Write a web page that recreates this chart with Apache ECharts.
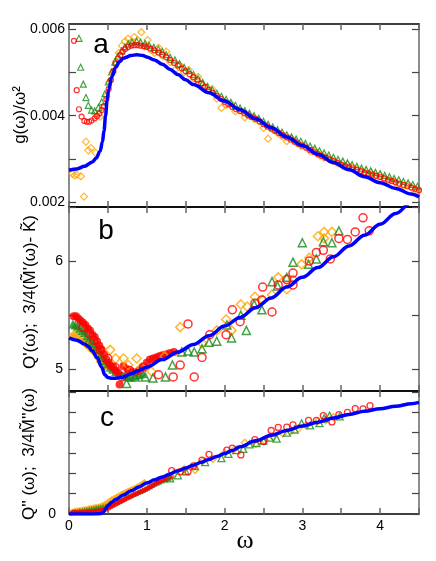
<!DOCTYPE html>
<html><head><meta charset="utf-8">
<script src="https://cdn.jsdelivr.net/npm/echarts@6/dist/echarts.min.js"></script>
<style>html,body{margin:0;padding:0;background:#fff}#c{width:436px;height:561px}</style>
</head><body><div id="c"></div>
<script>
// ---------- tick values / labels ----------
const xTicks = [0,0.5,1,1.5,2,2.5,3,3.5,4,4.5];
const xLabels = [0,1,2,3,4];
const aTicks = [0.002,0.003,0.004,0.005,0.006];
const aLabels = [0.002,0.004,0.006];
const bTicks = [5,5.5,6,6.5];
const bLabels = [5,6];
const cTicks = [0,1,2,3,4,5,6];
const cLabels = [0];

// ---------- panel a : g(w)/w^2 ----------
const aBlue = [[0,0.00274],[0.1,0.00277],[0.2,0.00283],[0.3,0.00293],[0.35,0.00302],[0.4,0.00318],[0.43,0.00340],[0.45,0.00365],[0.47,0.00400],[0.49,0.00435],[0.51,0.00460],[0.55,0.00490],[0.6,0.00512],[0.65,0.00525],[0.7,0.00533],[0.8,0.00539],[0.87,0.00541],[0.95,0.00539],[1.0,0.00536],[1.1,0.00529],[1.2,0.00519],[1.3,0.00507],[1.4,0.00495],[1.5,0.00483],[1.6,0.00472],[1.8,0.00453],[2.0,0.00434],[2.2,0.00414],[2.4,0.00393],[2.6,0.00372],[2.8,0.00351],[3.0,0.00331],[3.2,0.00311],[3.4,0.00292],[3.6,0.00275],[3.8,0.00259],[4.0,0.00245],[4.2,0.00232],[4.4,0.00219],[4.5,0.00212]];
const aRed = [[0.064,0.00573],[0.099,0.00459],[0.128,0.00415],[0.162,0.00398],[0.197,0.00388],[0.23,0.00386],[0.26,0.00386],[0.29,0.00389],[0.33,0.00394],[0.36,0.00399],[0.39,0.00405],[0.42,0.00413],[0.45,0.00422],[0.48,0.00438],[0.51,0.00462],[0.54,0.00483],[0.57,0.00503],[0.60,0.00520],[0.63,0.00532],[0.66,0.00540],[0.69,0.00548],[0.72,0.00554],[0.76,0.00559],[0.80,0.00562],[0.84,0.00563],[0.88,0.00563],[0.92,0.00562],[0.96,0.00561],[1.00,0.00559],[1.05,0.00555],[1.10,0.00551],[1.15,0.00546],[1.20,0.00541],[1.25,0.00535],[1.30,0.00529],[1.35,0.00522],[1.40,0.00516],[1.45,0.00509],[1.50,0.00503],[1.55,0.00496],[1.60,0.00489],[1.65,0.00482],[1.70,0.00474],[1.75,0.00467],[1.80,0.00460],[1.85,0.00453],[1.90,0.00446],[1.95,0.00439],[2.00,0.00432],[2.05,0.00426],[2.10,0.00420],[2.15,0.00415],[2.20,0.00411],[2.25,0.00406],[2.30,0.00401],[2.35,0.00397],[2.40,0.00393],[2.45,0.00387],[2.50,0.00381],[2.55,0.00375],[2.60,0.00370],[2.65,0.00365],[2.70,0.00360],[2.75,0.00355],[2.80,0.00350],[2.85,0.00345],[2.90,0.00340],[2.95,0.00335],[3.00,0.00331],[3.05,0.00326],[3.10,0.00321],[3.15,0.00316],[3.20,0.00311],[3.25,0.00307],[3.30,0.00303],[3.35,0.00299],[3.40,0.00295],[3.45,0.00291],[3.50,0.00287],[3.55,0.00284],[3.60,0.00281],[3.65,0.00278],[3.70,0.00275],[3.75,0.00272],[3.80,0.00269],[3.85,0.00266],[3.90,0.00264],[3.95,0.00261],[4.00,0.00258],[4.05,0.00255],[4.10,0.00252],[4.15,0.00249],[4.20,0.00246],[4.25,0.00243],[4.30,0.00240],[4.35,0.00237],[4.40,0.00234],[4.45,0.00231],[4.50,0.00228]];
const aGreen = [[0.128,0.00579],[0.15,0.00512],[0.184,0.00473],[0.218,0.00442],[0.248,0.00424],[0.29,0.00413],[0.33,0.00411],[0.377,0.00419],[0.42,0.00432],[0.463,0.00451],[0.505,0.00478],[0.548,0.00501],[0.59,0.00524],[0.63,0.00538],[0.677,0.00550],[0.72,0.00559],[0.763,0.00566],[0.81,0.00570],[0.87,0.00572],[0.92,0.00570],[0.977,0.00567],[1.03,0.00563],[1.09,0.00558],[1.148,0.00554],[1.2,0.00548],[1.25,0.00541],[1.30,0.00535],[1.362,0.00529],[1.42,0.00520],[1.48,0.00512],[1.54,0.00504],[1.60,0.00495],[1.66,0.00486],[1.72,0.00477],[1.78,0.00468],[1.84,0.00460],[1.90,0.00452],[1.96,0.00445],[2.02,0.00438],[2.08,0.00431],[2.14,0.00424],[2.20,0.00418],[2.26,0.00412],[2.32,0.00406],[2.38,0.00400],[2.44,0.00394],[2.50,0.00387],[2.56,0.00380],[2.62,0.00374],[2.68,0.00368],[2.74,0.00362],[2.80,0.00356],[2.86,0.00351],[2.92,0.00346],[2.98,0.00341],[3.04,0.00336],[3.10,0.00330],[3.16,0.00325],[3.22,0.00319],[3.28,0.00314],[3.34,0.00309],[3.40,0.00304],[3.46,0.00299],[3.52,0.00295],[3.58,0.00291],[3.64,0.00287],[3.70,0.00283],[3.76,0.00279],[3.82,0.00276],[3.88,0.00273],[3.94,0.00269],[4.00,0.00266],[4.06,0.00262],[4.12,0.00259],[4.18,0.00255],[4.24,0.00252],[4.30,0.00248],[4.36,0.00245],[4.42,0.00241],[4.48,0.00237]];
const aOrange = [[0.043,0.00266],[0.07,0.00262],[0.099,0.00264],[0.154,0.00260],[0.193,0.00213],[0.218,0.00340],[0.248,0.00320],[0.283,0.00325],[0.343,0.00314],[0.36,0.00400],[0.40,0.00398],[0.44,0.00420],[0.48,0.00445],[0.52,0.00478],[0.56,0.00500],[0.60,0.00525],[0.64,0.00545],[0.68,0.00562],[0.72,0.00572],[0.76,0.00578],[0.80,0.00570],[0.84,0.00582],[0.88,0.00575],[0.93,0.00593],[0.97,0.00560],[1.01,0.00575],[1.05,0.00552],[1.10,0.00545],[1.15,0.00557],[1.20,0.00538],[1.25,0.00548],[1.30,0.00524],[1.36,0.00505],[1.42,0.00518],[1.48,0.00500],[1.54,0.00506],[1.60,0.00486],[1.66,0.00490],[1.72,0.00470],[1.78,0.00459],[1.84,0.00462],[1.90,0.00440],[1.96,0.00418],[2.02,0.00425],[2.08,0.00428],[2.14,0.00410],[2.20,0.00412],[2.26,0.00396],[2.32,0.00400],[2.38,0.00392],[2.44,0.00388],[2.50,0.00372],[2.56,0.00347],[2.62,0.00368],[2.68,0.00360],[2.74,0.00352],[2.80,0.00341],[2.86,0.00348],[2.92,0.00338],[2.98,0.00330],[3.04,0.00328],[3.10,0.00318],[3.16,0.00319],[3.22,0.00309],[3.28,0.00303],[3.34,0.00301],[3.40,0.00295],[3.46,0.00290],[3.52,0.00284],[3.58,0.00287],[3.64,0.00280],[3.70,0.00276],[3.76,0.00273],[3.82,0.00265],[3.88,0.00268],[3.94,0.00260],[4.00,0.00262],[4.06,0.00254],[4.12,0.00250],[4.18,0.00248],[4.24,0.00240],[4.30,0.00237],[4.36,0.00240],[4.42,0.00232],[4.48,0.00226]];

// ---------- panel b : Q'(w) ----------
const bBlue = [[0,5.29],[0.1,5.27],[0.2,5.235],[0.25,5.21],[0.3,5.17],[0.36,5.11],[0.42,5.02],[0.46,4.95],[0.5,4.925],[0.55,4.917],[0.6,4.918],[0.7,4.93],[0.8,4.96],[0.9,4.99],[1.0,5.02],[1.2,5.09],[1.4,5.16],[1.6,5.23],[1.8,5.31],[2.0,5.40],[2.2,5.48],[2.4,5.57],[2.6,5.66],[2.8,5.76],[3.0,5.85],[3.2,5.94],[3.4,6.04],[3.6,6.14],[3.8,6.24],[4.0,6.34],[4.2,6.44],[4.4,6.54],[4.5,6.59]];
const bRedFilled = [[0.06,5.49],[0.09,5.49],[0.12,5.47],[0.15,5.45],[0.18,5.43],[0.21,5.41],[0.24,5.38],[0.27,5.36],[0.30,5.32],[0.33,5.30],[0.36,5.26],[0.39,5.22],[0.42,5.18],[0.45,5.14],[0.48,5.09],[0.51,5.06],[0.54,5.03],[0.57,5.02],[0.60,4.99],[0.63,4.97],[0.65,4.86],[0.70,5.03],[0.75,5.00],[0.80,4.98],[0.85,4.97],[0.90,4.99],[0.95,5.02],[1.00,5.06],[1.04,5.09],[1.08,5.10],[1.12,5.11],[1.16,5.12],[1.20,5.13],[1.25,5.14],[1.30,5.15],[1.35,5.16]];
const bRedOpen = [[0.18,5.39],[0.26,5.33],[0.32,5.27],[0.40,5.18],[0.50,5.10],[0.59,5.02],[0.68,4.93],[0.78,4.99],[0.96,5.02],[1.15,4.95],[1.34,4.93],[1.43,5.04],[1.53,5.42],[1.61,4.93],[1.71,5.11],[1.81,5.32],[2.02,5.32],[2.10,5.55],[2.20,5.44],[2.39,5.61],[2.48,5.64],[2.49,5.76],[2.61,5.53],[2.69,5.78],[2.80,5.83],[2.88,5.89],[2.88,5.78],[3.09,6.00],[3.18,6.08],[3.27,6.10],[3.36,6.02],[3.47,6.21],[3.58,6.20],[3.68,6.27],[3.78,6.40],[3.86,6.28]];
const bGreenFilled = [[0.05,5.42],[0.08,5.41],[0.11,5.40],[0.14,5.38],[0.17,5.36],[0.20,5.34],[0.23,5.31],[0.26,5.29],[0.29,5.26],[0.32,5.24],[0.35,5.21],[0.38,5.18],[0.41,5.14],[0.44,5.11],[0.47,5.08],[0.50,5.05],[0.53,5.02],[0.56,5.00],[0.60,4.98],[0.64,4.96],[0.68,4.95],[0.72,4.94],[0.76,4.93],[0.80,4.93],[0.85,4.94],[0.90,4.95],[0.95,4.96]];
const bGreenOpen = [[0.74,4.87],[0.85,4.93],[0.98,4.93],[1.08,4.92],[1.24,4.93],[1.33,5.04],[1.45,5.16],[1.53,5.17],[1.61,5.16],[1.71,5.19],[1.80,5.25],[1.90,5.26],[2.03,5.41],[2.09,5.29],[2.21,5.50],[2.28,5.36],[2.38,5.60],[2.48,5.55],[2.61,5.81],[2.68,5.77],[2.80,5.85],[2.88,5.99],[3.00,6.17],[3.08,5.97],[3.18,6.02],[3.27,6.18],[3.38,6.17],[3.47,6.28]];
const bOrangeFilled = [[0.04,5.30],[0.07,5.33],[0.10,5.31],[0.13,5.29],[0.16,5.27],[0.19,5.25],[0.22,5.23],[0.25,5.21],[0.28,5.19],[0.31,5.17],[0.34,5.15],[0.37,5.11],[0.40,5.07],[0.43,5.04],[0.46,5.02]];
const bOrangeOpen = [[0.53,5.18],[0.60,5.10],[0.70,5.10],[0.76,5.04],[0.87,5.10],[0.93,5.02],[1.06,4.98],[1.23,5.12],[1.43,5.39],[1.71,5.24],[1.90,5.36],[2.02,5.46],[2.09,5.36],[2.21,5.60],[2.29,5.58],[2.39,5.67],[2.49,5.64],[2.61,5.69],[2.69,5.85],[2.80,5.74],[2.88,5.83],[2.99,5.97],[3.09,6.03],[3.20,6.23],[3.28,6.27],[3.28,6.21],[3.38,6.27]];

// ---------- panel c : Q''(w) ----------
const cBlue = [[0,0],[0.2,0],[0.4,0.01],[0.44,0.08],[0.47,0.25],[0.5,0.42],[0.55,0.58],[0.6,0.71],[0.7,0.93],[0.8,1.14],[0.9,1.33],[1.0,1.52],[1.1,1.68],[1.2,1.82],[1.3,1.97],[1.4,2.12],[1.5,2.26],[1.6,2.40],[1.7,2.54],[1.8,2.68],[1.9,2.82],[2.0,2.97],[2.1,3.12],[2.2,3.30],[2.4,3.60],[2.6,3.87],[2.8,4.10],[3.0,4.32],[3.2,4.51],[3.4,4.71],[3.6,4.89],[3.8,5.04],[4.0,5.17],[4.2,5.29],[4.4,5.42],[4.5,5.48]];
const cRedFilled = [[0.03,0.05],[0.06,0.08],[0.09,0.06],[0.12,0.09],[0.15,0.07],[0.18,0.1],[0.21,0.08],[0.24,0.11],[0.27,0.1],[0.30,0.12],[0.33,0.12],[0.36,0.15],[0.39,0.16],[0.42,0.18],[0.45,0.2],[0.48,0.24],[0.51,0.3],[0.54,0.36],[0.57,0.42],[0.60,0.48],[0.63,0.54],[0.66,0.6],[0.69,0.66],[0.72,0.72],[0.75,0.78],[0.78,0.84],[0.81,0.9],[0.84,0.95],[0.87,1.0],[0.90,1.06],[0.93,1.11],[0.96,1.17],[0.99,1.22],[1.02,1.28],[1.05,1.34],[1.08,1.41],[1.11,1.48],[1.14,1.55],[1.17,1.6],[1.20,1.66],[1.24,1.71],[1.28,1.77],[1.32,1.82]];
const cRedOpen = [[1.32,2.13],[1.43,2.08],[1.53,2.08],[1.60,2.36],[1.71,2.65],[1.80,2.93],[2.03,3.14],[2.10,3.23],[2.21,2.9],[2.39,3.65],[2.50,3.56],[2.60,4.1],[2.69,4.25],[2.80,4.27],[2.88,4.38],[3.08,4.6],[3.18,4.6],[3.27,4.83],[3.38,4.52],[3.47,4.88],[3.58,4.99],[3.68,5.17],[3.78,5.16],[3.87,5.32]];
const cGreenFilled = [[0.05,0.1],[0.08,0.14],[0.11,0.12],[0.14,0.16],[0.17,0.15],[0.20,0.18],[0.23,0.2],[0.26,0.22],[0.29,0.24],[0.32,0.26],[0.35,0.29],[0.38,0.31],[0.41,0.33],[0.44,0.35],[0.47,0.38],[0.50,0.42],[0.53,0.46],[0.56,0.5],[0.59,0.55],[0.62,0.6],[0.65,0.65],[0.68,0.71],[0.71,0.76],[0.74,0.82],[0.77,0.87],[0.80,0.92],[0.83,0.98],[0.86,1.03],[0.89,1.08],[0.92,1.13],[0.95,1.18],[0.98,1.24],[1.01,1.3],[1.04,1.36],[1.07,1.42],[1.10,1.48],[1.13,1.53],[1.16,1.58],[1.2,1.64],[1.24,1.7],[1.28,1.75]];
const cGreenOpen = [[1.30,1.75],[1.40,1.9],[1.50,2.1],[1.62,2.35],[1.75,2.55],[1.96,2.74],[2.05,2.95],[2.15,3.14],[2.24,3.2],[2.32,3.42],[2.41,3.48],[2.50,3.6],[2.58,3.75],[2.67,3.7],[2.80,4.0],[2.90,4.15],[2.99,4.45],[3.10,4.35],[3.22,4.46],[3.28,4.7],[3.35,4.83],[3.48,4.79]];
const cOrangeFilled = [[0.04,0.12],[0.07,0.16],[0.10,0.18],[0.13,0.2],[0.16,0.22],[0.19,0.24],[0.22,0.26],[0.25,0.29],[0.28,0.31],[0.31,0.33],[0.34,0.36],[0.37,0.38],[0.40,0.41],[0.43,0.44],[0.46,0.5],[0.49,0.58],[0.52,0.66],[0.55,0.74],[0.58,0.8],[0.61,0.86],[0.64,0.92],[0.67,0.98],[0.70,1.04],[0.73,1.09],[0.76,1.15],[0.79,1.2],[0.82,1.25],[0.85,1.3],[0.88,1.36],[0.91,1.42],[0.94,1.5],[0.97,1.58]];
const cOrangeOpen = [[1.35,2.0],[1.48,2.2],[1.62,2.16],[1.72,2.6],[1.85,2.7],[2.00,3.0],[2.12,3.15],[2.26,3.5],[2.40,3.45],[2.52,3.6],[2.62,3.8],[2.75,3.95],[2.85,4.05],[2.95,4.2],[3.05,4.35],[3.20,4.55],[3.30,4.6],[3.40,4.75]];

// ---------- styling ----------
const RED = '#ff0000', GREEN = '#1a8a1a', ORANGE = '#ffa500', BLUE = '#0000ff';
const FONT = "'Liberation Sans', Arial, sans-serif";
const grids = [
  {left:69, right:17, top:24, height:183},
  {left:69, right:17, top:207, height:184},
  {left:69, right:17, top:391, height:123}
];
const yRanges = [[0.00189,0.00612],[4.8,6.5],[0,6.04]];
const yTickSets = [aTicks,bTicks,cTicks];
const yLabelSets = [aLabels,bLabels,cLabels];
const yMargins = [4,6,13];

const xAxes = [], yAxes = [];
for (let g=0; g<3; g++) {
  ['bottom','top'].forEach(pos => {
    xAxes.push({
      type:'value', gridIndex:g, position:pos, min:0, max:4.5,
      axisLine:{show:true, onZero:false, lineStyle:{color:'#000', width:1.5}},
      axisTick:{show:true, inside:true, length:6, customValues:xTicks, lineStyle:{color:'#666', width:1.5}},
      axisLabel:{show:(g===2 && pos==='bottom'), customValues:xLabels, margin:5, color:'#000', fontSize:14, fontFamily:FONT},
      splitLine:{show:false}
    });
  });
  ['left','right'].forEach(pos => {
    yAxes.push({
      type:'value', gridIndex:g, position:pos, min:yRanges[g][0], max:yRanges[g][1],
      axisLine:{show:true, onZero:false, lineStyle:{color:'#666', width:1.5}},
      axisTick:{show:true, inside:true, length:7, customValues:yTickSets[g], lineStyle:{color:'#444', width:1.2}},
      axisLabel:{show:pos==='left', customValues:yLabelSets[g], margin:yMargins[g], color:'#000', fontSize:14, fontFamily:FONT,
        formatter: v => g===0 ? Number(v).toFixed(3) : String(v)},
      splitLine:{show:false}
    });
  });
}

function sc(data, g, symbol, color, size, filled, z, bw) {
  return {
    type:'scatter', xAxisIndex:2*g, yAxisIndex:2*g, data:data, symbol:symbol, symbolSize:size,
    itemStyle:{color: filled ? color : 'rgba(255,255,255,0)', borderColor:color, borderWidth: filled ? 0 : (bw||1.3)},
    z:z, silent:true, clip:true
  };
}
function ln(data, g) {
  return {type:'line', xAxisIndex:2*g, yAxisIndex:2*g, data:data, showSymbol:false, symbol:'none',
    smooth:0.35, smoothMonotone:'x', lineStyle:{color:BLUE, width:3.5}, z:10, clip:true, silent:true};
}

const series = [
  // panel a
  sc(aOrange,0,'diamond',ORANGE,7,false,2,1.2),
  sc(aGreen,0,'triangle',GREEN,6,false,3,1.2),
  sc(aRed,0,'circle',RED,5,false,4,1.2),
  ln(aBlue,0),
  // panel b
  sc(bOrangeFilled,1,'diamond',ORANGE,9,true,2),
  sc(bGreenFilled,1,'triangle',GREEN,9,true,3),
  sc(bRedFilled,1,'circle',RED,8,true,4),
  sc(bOrangeOpen,1,'diamond',ORANGE,9,false,5,1.5),
  sc(bGreenOpen,1,'triangle',GREEN,8,false,5,1.5),
  sc(bRedOpen,1,'circle',RED,8,false,6,1.5),
  ln(bBlue,1),
  // panel c
  sc(cOrangeFilled,2,'diamond',ORANGE,6,true,2),
  sc(cGreenFilled,2,'triangle',GREEN,6,true,3),
  sc(cRedFilled,2,'circle',RED,5,true,4),
  sc(cOrangeOpen,2,'diamond',ORANGE,7,false,5,1.3),
  sc(cGreenOpen,2,'triangle',GREEN,7,false,5,1.3),
  sc(cRedOpen,2,'circle',RED,6,false,6,1.3),
  ln(cBlue,2)
];

function vtext(x, y, text, size) {
  return {type:'text', x:x, y:y, rotation:Math.PI/2, z:100,
    style:{text:text, font: size+'px '+FONT, fill:'#000', align:'center', verticalAlign:'middle'}};
}
function htext(x, y, text, font) {
  return {type:'text', x:x, y:y, z:100, style:{text:text, font:font, fill:'#000', align:'center', verticalAlign:'middle'}};
}

const chart = echarts.init(document.getElementById('c'), null, {renderer:'canvas'});
chart.setOption({
  animation:false,
  backgroundColor:'#fff',
  grid:grids,
  xAxis:xAxes,
  yAxis:yAxes,
  series:series,
  graphic:[
    vtext(20, 115, 'g(\u03c9)/\u03c9\u00b2', 17),
    vtext(30, 292, "Q'(\u03c9);  3/4(M\u0303'(\u03c9)- K\u0303)", 17),
    vtext(29, 454, "Q'' (\u03c9);  3/4M\u0303''(\u03c9)", 17),
    htext(101, 45, 'a', '28px '+FONT),
    htext(106, 231, 'b', '28px '+FONT),
    htext(107, 418, 'c', '28px '+FONT),
    htext(245, 541, '\u03c9', "26px 'Liberation Serif', 'DejaVu Serif', serif")
  ]
});
</script>
</body></html>
